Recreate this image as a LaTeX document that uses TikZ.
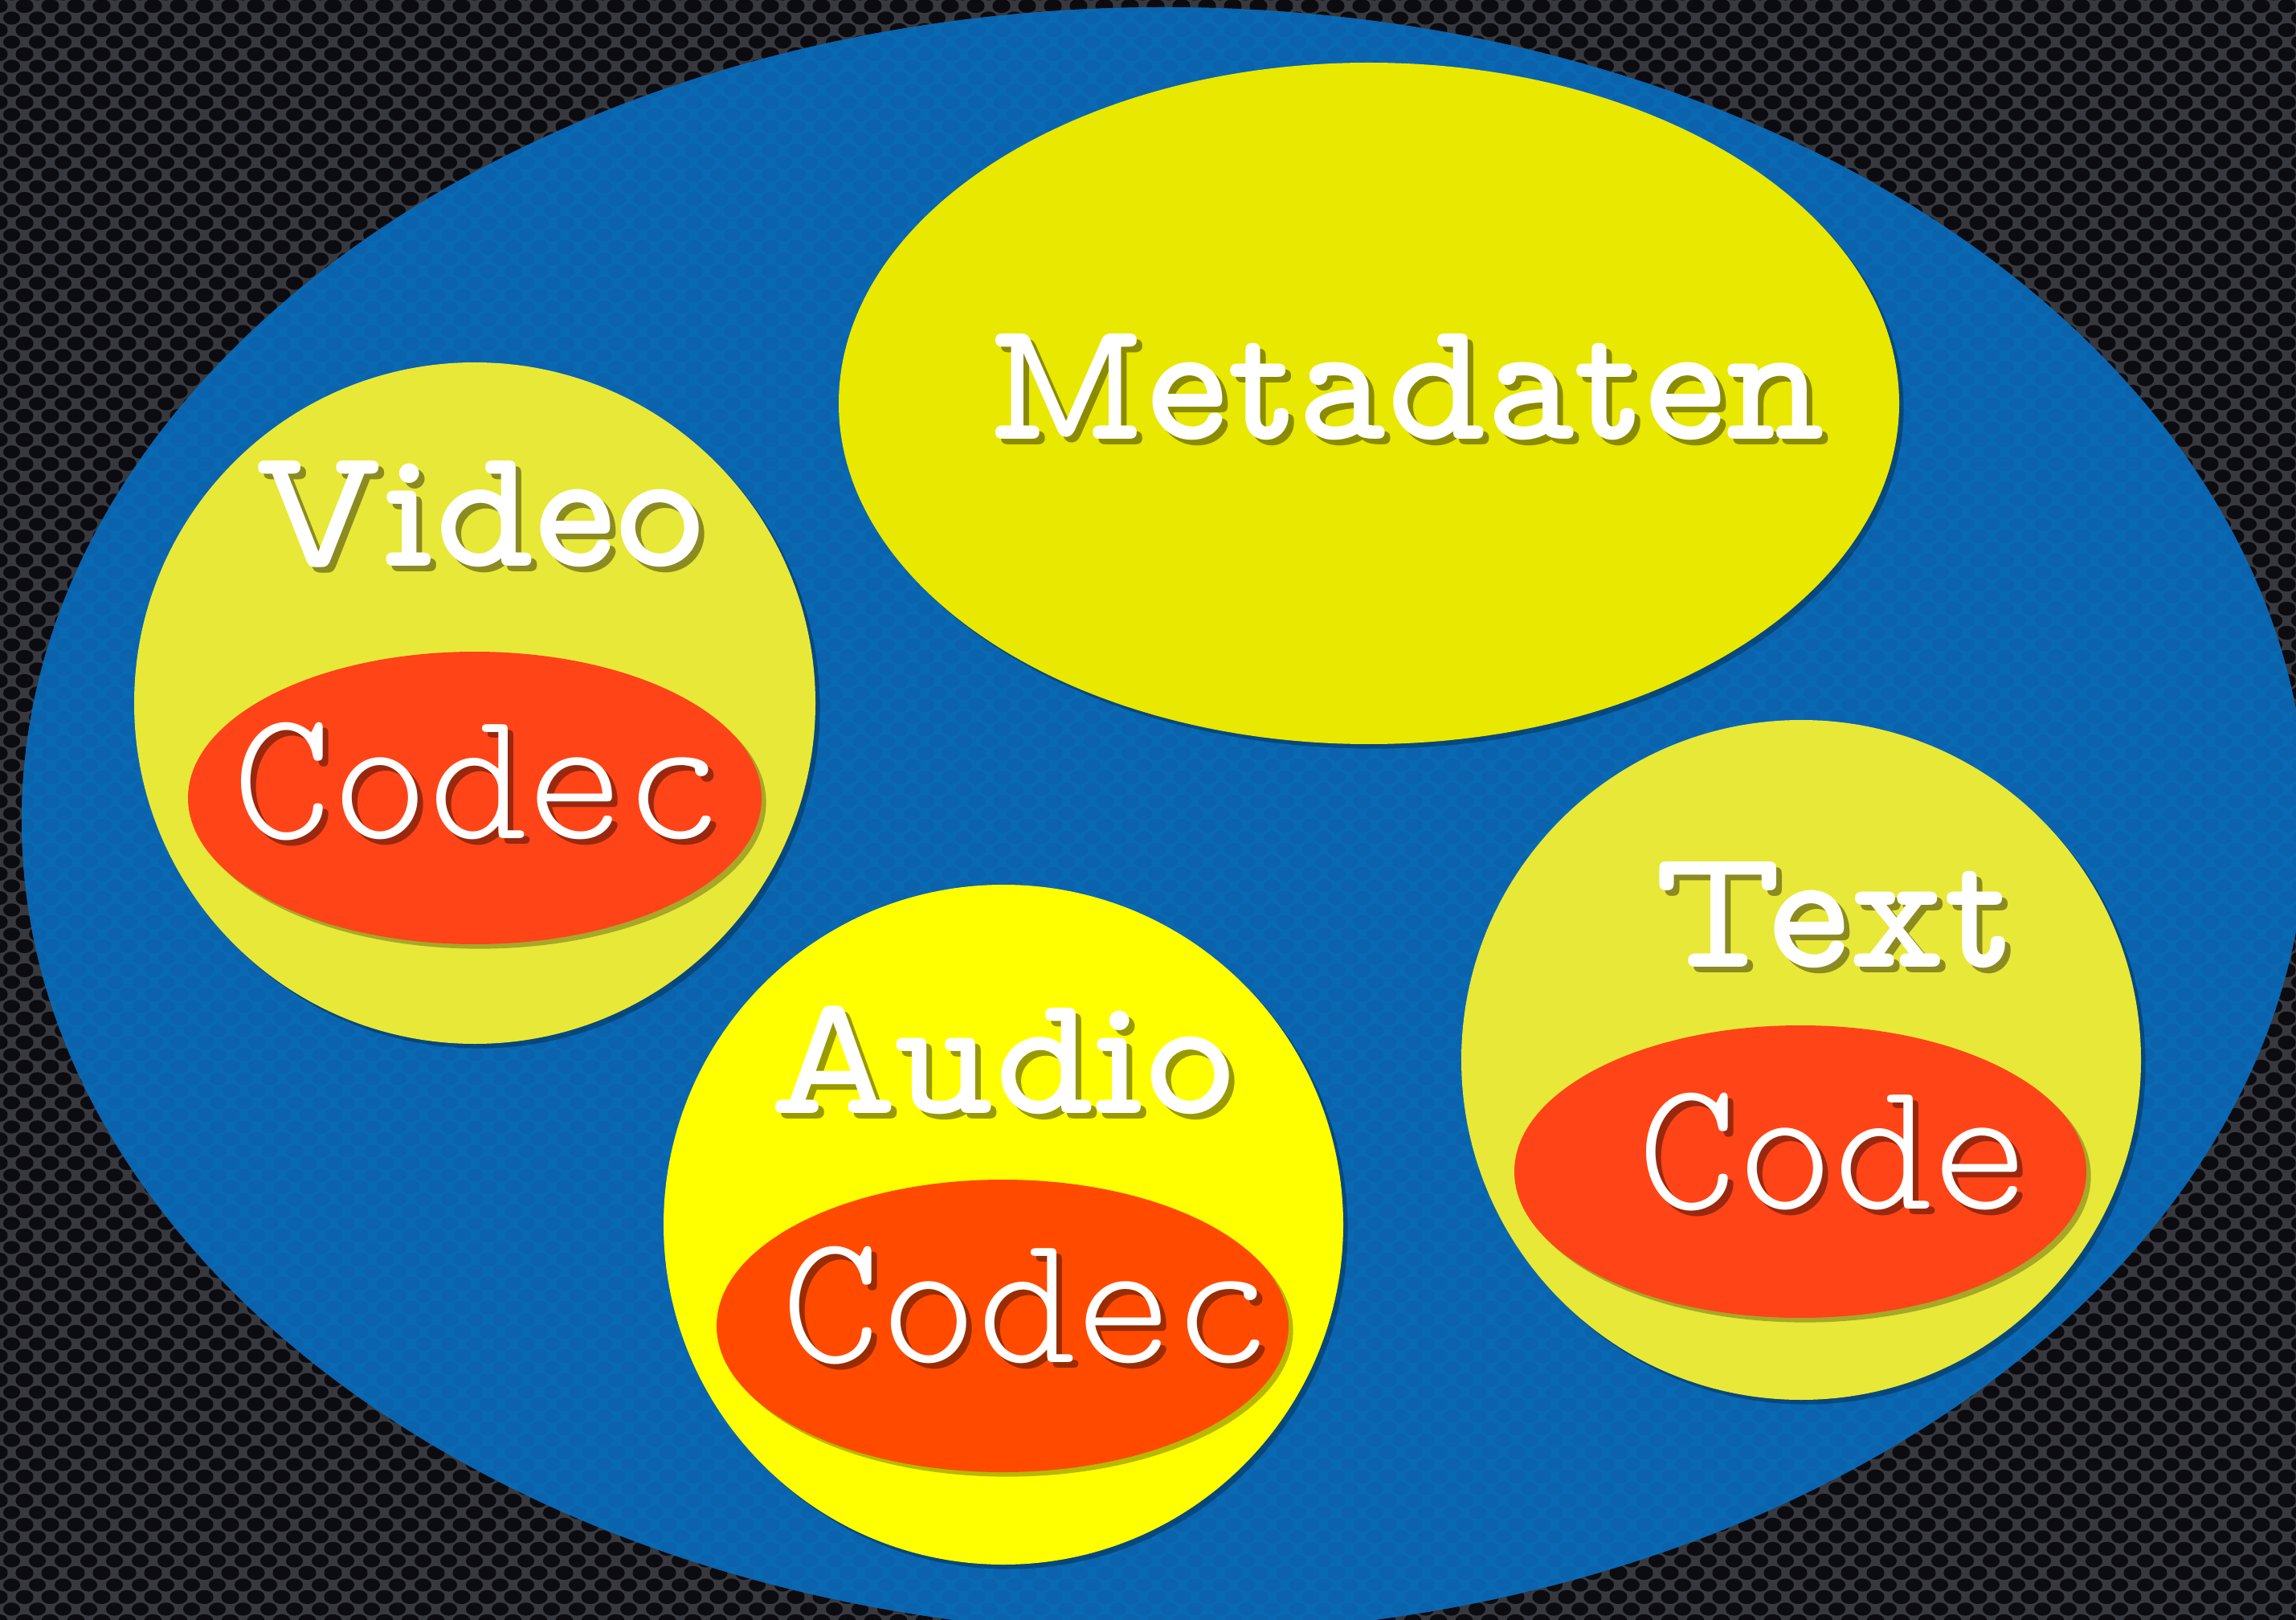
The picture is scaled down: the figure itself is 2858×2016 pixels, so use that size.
\documentclass[tikz,border=0pt]{standalone}
\usepackage{fontspec}
\newfontfamily\headfont{lmmonoproplt10-bold.otf}
\newfontfamily\codecfont{lmmonolt10-regular.otf}
\usetikzlibrary{shadows,patterns}

\definecolor{meshgray}{HTML}{38393E}
\definecolor{meshhole}{HTML}{0B0B10}
\definecolor{plateblue}{HTML}{0A69B3}
\definecolor{platedot}{HTML}{0A63AC}
\definecolor{metayellow}{HTML}{E8E800}
\definecolor{paleyellow}{HTML}{E8E838}
\definecolor{brightyellow}{HTML}{FFFF00}
\definecolor{codecred}{HTML}{FF4418}
\definecolor{codecorange}{HTML}{FF4A00}

% hexagonal mesh of holes, one tile
\pgfdeclarepatternformonly{meshholes}{\pgfpointorigin}{\pgfpoint{9.1pt}{8.54pt}}{\pgfpoint{9.1pt}{8.54pt}}{
  \pgfpathellipse{\pgfpoint{4.55pt}{4.27pt}}{\pgfpoint{3.1pt}{0pt}}{\pgfpoint{0pt}{2.4pt}}
  \pgfpathellipse{\pgfpoint{0pt}{0pt}}{\pgfpoint{3.1pt}{0pt}}{\pgfpoint{0pt}{2.4pt}}
  \pgfpathellipse{\pgfpoint{9.1pt}{0pt}}{\pgfpoint{3.1pt}{0pt}}{\pgfpoint{0pt}{2.4pt}}
  \pgfpathellipse{\pgfpoint{0pt}{8.54pt}}{\pgfpoint{3.1pt}{0pt}}{\pgfpoint{0pt}{2.4pt}}
  \pgfpathellipse{\pgfpoint{9.1pt}{8.54pt}}{\pgfpoint{3.1pt}{0pt}}{\pgfpoint{0pt}{2.4pt}}
  \pgfusepath{fill}
}

\tikzset{
  blob/.style={general shadow={fill=black, opacity=.28, shadow xshift=1.6pt, shadow yshift=-1.6pt}},
  headtext/.style={anchor=base, text=white, inner sep=0pt, font=\headfont\fontsize{61}{61}\selectfont},
  codectext/.style={anchor=base, text=white, inner sep=0pt, font=\codecfont\fontsize{66}{66}\selectfont},
  textshadow/.style={text=black, opacity=.4}
}

\begin{document}
\begin{tikzpicture}[x=0.01cm, y=-0.01cm]
  \useasboundingbox (0,0) rectangle (2858,2016);
  \fill[meshgray] (0,0) rectangle (2858,2016); % background
  \fill[pattern=meshholes, pattern color=meshhole] (0,0) rectangle (2858,2016);
  \fill[plateblue] (1449,1021) ellipse [x radius=1422, y radius=1012]; % plate
  \fill[pattern=meshholes, pattern color=platedot] (1449,1021) ellipse [x radius=1422, y radius=1012];

  \fill[metayellow, blob] (1704,502) ellipse [x radius=660, y radius=424];
  \fill[paleyellow, blob] (591,875) circle [radius=424];
  \fill[codecred, blob] (591,993) ellipse [x radius=357, y radius=182];
  \fill[brightyellow, blob] (1249,1524) circle [radius=423];
  \fill[codecorange, blob] (1248,1650) ellipse [x radius=356, y radius=182];
  \fill[paleyellow, blob] (2242,1319) circle [radius=423];
  \fill[codecred, blob] (2241,1458) ellipse [x radius=356, y radius=182];

  \node[headtext, textshadow] at (1757,554) {Metadaten};
  \node[headtext] (metadaten) at (1750,547) {Metadaten};
  \node[headtext, textshadow] at (604,712) {Video};
  \node[headtext] (video) at (597,705) {Video};
  \node[codectext, textshadow] at (602,1050) {Codec};
  \node[codectext] (videocodec) at (595,1043) {Codec};
  \node[headtext, textshadow] at (1254,1392) {Audio};
  \node[headtext] (audio) at (1247,1385) {Audio};
  \node[codectext, textshadow] at (1285,1702) {Codec};
  \node[codectext] (audiocodec) at (1278,1695) {Codec};
  \node[headtext, textshadow] at (2290,1210) {Text};
  \node[headtext] (textlabel) at (2283,1203) {Text};
  \node[codectext, textshadow] at (2290,1511) {Code};
  \node[codectext] (code) at (2283,1504) {Code};
\end{tikzpicture}
\end{document}
